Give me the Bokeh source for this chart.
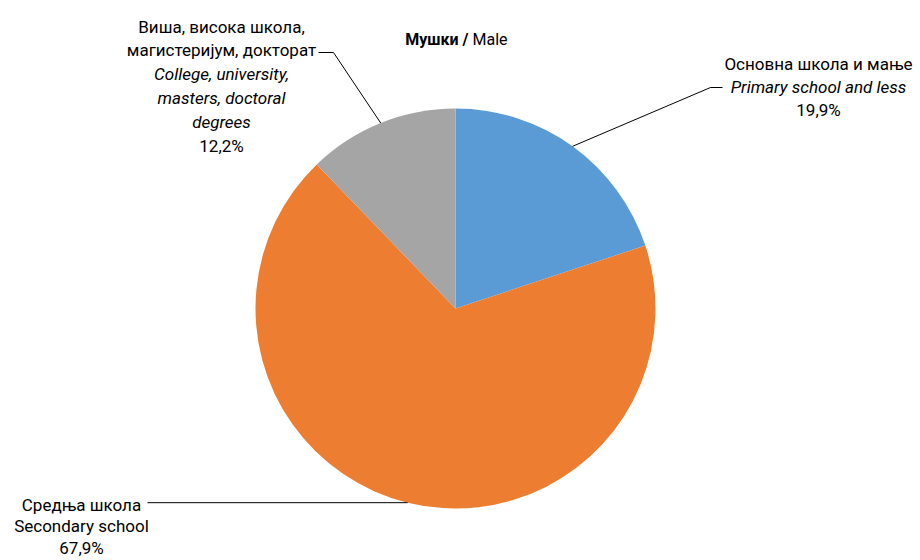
import numpy as np
from bokeh.plotting import figure
from bokeh.models import Range1d, ColumnDataSource
from bokeh.core.properties import value
from bokeh.embed import file_html
from bokeh.resources import INLINE

# ---- data ----
labels_sr = ["Основна школа и мање", "Средња школа", "Виша, висока школа,\nмагистеријум, докторат"]
labels_en = ["Primary school and less", "Secondary school", "College, university,\nmasters, doctoral\ndegrees"]
shares = [19.9, 67.9, 12.2]
pct_text = ["19,9%", "67,9%", "12,2%"]
colors = ["#5B9BD5", "#ED7D31", "#A5A5A5"]
en_italic = [True, False, True]
title_bold = "Мушки /"
title_normal = "Male"

FONT = "Roboto"
FS = "17px"
TFS = "16px"
W, H = 920, 560


def Y(img_y):
    return H - img_y


p = figure(width=W, height=H, output_backend="svg", toolbar_location=None,
           x_range=Range1d(0, W), y_range=Range1d(0, H), min_border=0)
p.axis.visible = False
p.xgrid.visible = False
p.ygrid.visible = False
p.outline_line_color = None
p.background_fill_color = "white"
p.border_fill_color = "white"

# pie geometry
cx, cy, R = 455, Y(308), 200
fr = np.array(shares) / sum(shares)
ends = np.cumsum(fr) * 2 * np.pi
starts = ends - fr * 2 * np.pi
mids = (starts + ends) / 2

src = ColumnDataSource(dict(
    x=[cx] * 3, y=[cy] * 3,
    start=list(np.pi / 2 - starts), end=list(np.pi / 2 - ends),
    color=colors,
))
p.wedge(x="x", y="y", radius=R, start_angle="start", end_angle="end",
        direction="clock", fill_color="color", line_color=None, source=src)

# leader lines: from slice mid-angle on the rim to the label
sx = cx + R * np.sin(mids)
sy = cy + R * np.cos(mids)
elbows = [
    [(710, Y(87)), (722, Y(87))],
    [(147, None)],
    [(333, Y(52)), (318, Y(52))],
]
xs, ys = [], []
for i in range(3):
    lx, ly = [sx[i]], [sy[i]]
    for ex, ey in elbows[i]:
        lx.append(ex)
        ly.append(sy[i] if ey is None else ey)
    xs.append(lx)
    ys.append(ly)
p.multi_line(xs=xs, ys=ys, line_color="black", line_width=1)

# labels (x centre, first baseline, line spacing)
label_pos = [(818, 63, 23), (81, 504, 21.5), (221, 26, 23.8)]
tx, ty, tt, tst = [], [], [], []
for i in range(3):
    x0, b0, ls = label_pos[i]
    lines = []
    for s in labels_sr[i].split("\n"):
        lines.append((s, "normal"))
    for s in labels_en[i].split("\n"):
        lines.append((s, "italic" if en_italic[i] else "normal"))
    lines.append((pct_text[i], "normal"))
    for k, (s, st) in enumerate(lines):
        tx.append(x0)
        ty.append(Y(b0 + k * ls))
        tt.append(s)
        tst.append(st)

p.text(x="x", y="y", text="t", text_font_style="st",
       source=ColumnDataSource(dict(x=tx, y=ty, t=tt, st=tst)),
       text_font=value(FONT), text_font_size=FS, text_align="center",
       text_baseline="alphabetic", text_color="black")

# title
p.text(x=[468], y=[Y(38.5)], text=[title_bold], text_font=value(FONT), text_font_size=TFS,
       text_font_style="bold", text_align="right", text_baseline="alphabetic", text_color="black")
p.text(x=[472], y=[Y(38.5)], text=[title_normal], text_font=value(FONT), text_font_size=TFS,
       text_align="left", text_baseline="alphabetic", text_color="black")

open("out.html", "w").write(file_html(p, INLINE))
